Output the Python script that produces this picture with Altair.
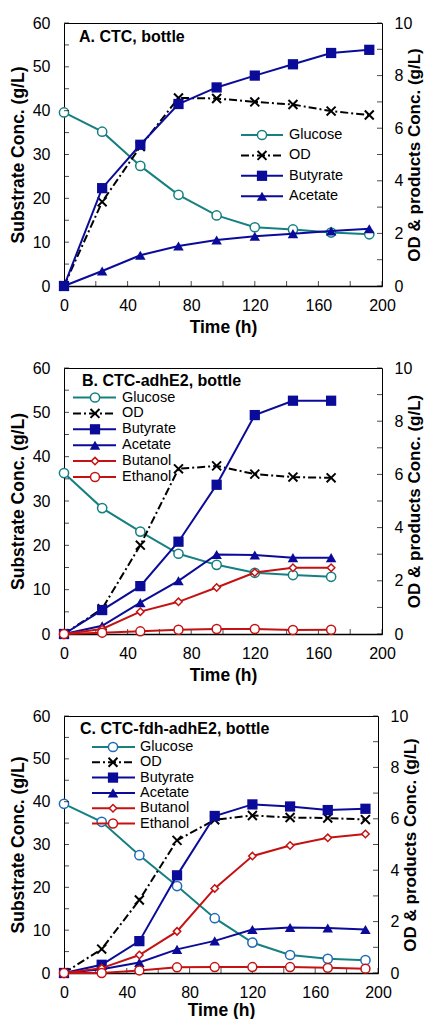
import altair as alt
import pandas as pd

FONT = "Liberation Sans"
TEAL = "#168080"
NAVY = "#0B0B99"
RED = "#C41212"
BLUE_C = "#1F6BB5"
XPATH = "M-1,-1L1,1M-1,1L1,-1"

# ---------------- data ----------------
tA = [0, 24, 48, 72, 96, 120, 144, 168, 192]
A_glucose = [39.6, 35.2, 27.4, 20.8, 16.1, 13.4, 12.9, 12.2, 11.8]
A_od = [0, 3.2, 5.3, 7.15, 7.13, 7.0, 6.9, 6.65, 6.5]
A_butyrate = [0, 3.72, 5.37, 6.92, 7.55, 8.0, 8.43, 8.86, 8.98]
A_acetate = [0, 0.57, 1.17, 1.52, 1.75, 1.89, 1.99, 2.09, 2.18]

tB = [0, 24, 48, 72, 96, 120, 144, 168]
B_glucose = [36.3, 28.4, 23.1, 18.1, 15.6, 13.8, 13.3, 12.9]
B_od = [0, 0.95, 3.34, 6.21, 6.32, 6.01, 5.9, 5.87]
B_butyrate = [0, 0.90, 1.80, 3.47, 5.61, 8.23, 8.77, 8.77]
B_acetate = [0, 0.31, 1.18, 2.0, 2.99, 2.97, 2.87, 2.87]
B_butanol = [0, 0.19, 0.84, 1.21, 1.75, 2.31, 2.49, 2.49]
B_ethanol = [0, 0.05, 0.10, 0.16, 0.19, 0.19, 0.15, 0.16]

tC = [0, 24, 48, 72, 96, 120, 144, 168, 192]
C_glucose = [39.5, 35.3, 27.5, 20.3, 12.8, 7.1, 4.2, 3.3, 3.0]
C_od = [0, 0.93, 2.84, 5.16, 5.96, 6.13, 6.05, 6.03, 5.97]
C_butyrate = [0, 0.32, 1.24, 3.8, 6.11, 6.56, 6.48, 6.34, 6.39]
C_acetate = [0, 0.15, 0.41, 0.92, 1.25, 1.69, 1.77, 1.75, 1.69]
C_butanol = [0, 0.19, 0.70, 1.62, 3.29, 4.55, 4.96, 5.26, 5.41]
C_ethanol = [0, 0.0, 0.10, 0.22, 0.23, 0.23, 0.23, 0.20, 0.17]

left_ticks = list(range(0, 61, 5))
left_labels = list(range(0, 61, 10))
right_ticks = list(range(0, 11))
right_labels = list(range(0, 11, 2))
x_ticks = list(range(0, 201, 20))
x_labels = list(range(0, 201, 40))

# ---------------- styles ----------------
STYLE = {
    "Glucose": dict(color=TEAL, dash=None, shape="circle", size=85, fill="white", msw=1.5),
    "OD": dict(color="black", dash=[8, 3, 2, 3], shape=XPATH, size=80, fill=None, msw=2),
    "Butyrate": dict(color=NAVY, dash=None, shape="square", size=105, fill=NAVY, msw=0),
    "Acetate": dict(color=NAVY, dash=None, shape="triangle-up", size=110, fill=NAVY, msw=0),
    "Butanol": dict(color=RED, dash=None, shape="diamond", size=55, fill="white", msw=1.5),
    "Ethanol": dict(color=RED, dash=None, shape="circle", size=80, fill="white", msw=1.5),
}

AX = dict(labelFont=FONT, titleFont=FONT, labelFontSize=16,
          labelColor="black", titleColor="black", titleFontWeight="bold")


def line_mark(name):
    s = STYLE[name]
    kw = dict(color=s["color"], strokeWidth=2)
    if s["dash"]:
        kw["strokeDash"] = s["dash"]
    return kw


def point_mark(name, mstroke=None):
    s = STYLE[name]
    stroke = mstroke or s["color"]
    kw = dict(shape=s["shape"], size=s["size"], opacity=1)
    if s["fill"] is None:
        kw.update(filled=False, stroke=stroke, strokeWidth=s["msw"], fill="transparent")
    elif s["msw"] == 0:
        kw.update(filled=True, fill=s["fill"], stroke=stroke, strokeWidth=0)
    else:
        kw.update(filled=True, fill=s["fill"], stroke=stroke, strokeWidth=s["msw"])
    return kw


def panel(title, t, glucose, products, W, H, leg, glu_marker, x_title_pad):
    X = alt.X("t:Q", scale=alt.Scale(domain=[0, 200], nice=False),
              axis=alt.Axis(values=x_labels, title="Time (h)", ticks=False, grid=False,
                            domain=True, domainColor="black", domainWidth=1.5,
                            labelPadding=11, titlePadding=x_title_pad, labelFlush=False,
                            titleFontSize=17.5, **AX))
    YL = alt.Y("v:Q", scale=alt.Scale(domain=[0, 60], nice=False),
               axis=alt.Axis(values=left_labels, title="Substrate Conc. (g/L)", ticks=False,
                             grid=False, domain=False, labelPadding=14, titlePadding=5,
                             titleFontSize=17.5, **AX))
    YR = alt.Y("v:Q", scale=alt.Scale(domain=[0, 10], nice=False),
               axis=alt.Axis(values=right_labels, title="OD & products Conc. (g/L)",
                             orient="right", ticks=False, grid=False, domain=False,
                             labelPadding=12, titlePadding=-5, titleAngle=270,
                             titleBaseline="top", titleFontSize=17, **AX))

    gdf = pd.DataFrame({"t": t, "v": glucose})
    left = alt.layer(
        alt.Chart(gdf).mark_line(**line_mark("Glucose")).encode(x=X, y=YL),
        alt.Chart(gdf).mark_point(**point_mark("Glucose", glu_marker)).encode(x=X, y=YL),
        alt.Chart(pd.DataFrame({"v": left_ticks})).mark_tick(
            orient="horizontal", size=5, thickness=1, color="black").encode(y=YL, x=alt.value(2.5)),
        alt.Chart(pd.DataFrame({"t": x_ticks})).mark_tick(
            orient="vertical", size=5, thickness=1, color="black").encode(x=X, y=alt.value(H - 2.5)),
    )

    rlayers = []
    for name, vals in products:
        df = pd.DataFrame({"t": t, "v": vals})
        rlayers.append(alt.Chart(df).mark_line(**line_mark(name)).encode(x=X, y=YR))
        rlayers.append(alt.Chart(df).mark_point(**point_mark(name)).encode(x=X, y=YR))
    rlayers.append(alt.Chart(pd.DataFrame({"v": right_ticks})).mark_tick(
        orient="horizontal", size=5, thickness=1, color="black").encode(y=YR, x=alt.value(W - 2.5)))
    right = alt.layer(*rlayers)

    one = pd.DataFrame({"a": [0]})
    llayers = [alt.Chart(one).mark_text(text=title, align="left", baseline="middle", font=FONT,
                                        fontSize=16, fontWeight="bold", color="black")
               .encode(x=alt.value(leg["tx"]), y=alt.value(leg["ty"]))]
    names = ["Glucose"] + [n for n, _ in products]
    for i, name in enumerate(names):
        y = leg["y0"] + i * leg["dy"]
        llayers.append(alt.Chart(one).mark_rule(**line_mark(name)).encode(
            x=alt.value(leg["l0"]), x2=alt.value(leg["l1"]), y=alt.value(y)))
        llayers.append(alt.Chart(one).mark_point(
            **point_mark(name, glu_marker if name == "Glucose" else None)).encode(
            x=alt.value(leg["m"]), y=alt.value(y)))
        llayers.append(alt.Chart(one).mark_text(text=name, align="left", baseline="middle",
                                                font=FONT, fontSize=14.5, color="black")
                       .encode(x=alt.value(leg["tx2"]), y=alt.value(y)))
    legend = alt.layer(*llayers)

    return alt.layer(left, right, legend).resolve_scale(y="independent").properties(width=W, height=H)


pA = panel("A. CTC, bottle", tA, A_glucose,
           [("OD", A_od), ("Butyrate", A_butyrate), ("Acetate", A_acetate)],
           318, 263,
           dict(tx=15, ty=14, y0=112, dy=20.4, l0=177, l1=219, m=198, tx2=225), TEAL, 5)
pB = panel("B. CTC-adhE2, bottle", tB, B_glucose,
           [("OD", B_od), ("Butyrate", B_butyrate), ("Acetate", B_acetate),
            ("Butanol", B_butanol), ("Ethanol", B_ethanol)],
           318, 266,
           dict(tx=18, ty=13, y0=29.5, dy=15.9, l0=9, l1=52, m=31, tx2=58), TEAL, 5)
pC = panel("C. CTC-fdh-adhE2, bottle", tC, C_glucose,
           [("OD", C_od), ("Butyrate", C_butyrate), ("Acetate", C_acetate),
            ("Butanol", C_butanol), ("Ethanol", C_ethanol)],
           314, 257,
           dict(tx=16, ty=13, y0=31, dy=15.3, l0=28, l1=71, m=49, tx2=76), BLUE_C, 1)

chart = alt.vconcat(pA, pB, pC, spacing=23).properties(
    padding={"left": 0, "top": 6, "right": 0, "bottom": 0},
    background="white",
).configure_view(stroke="black", strokeWidth=1)

chart.save("out.html", embed_options={"renderer": "svg", "actions": False})
